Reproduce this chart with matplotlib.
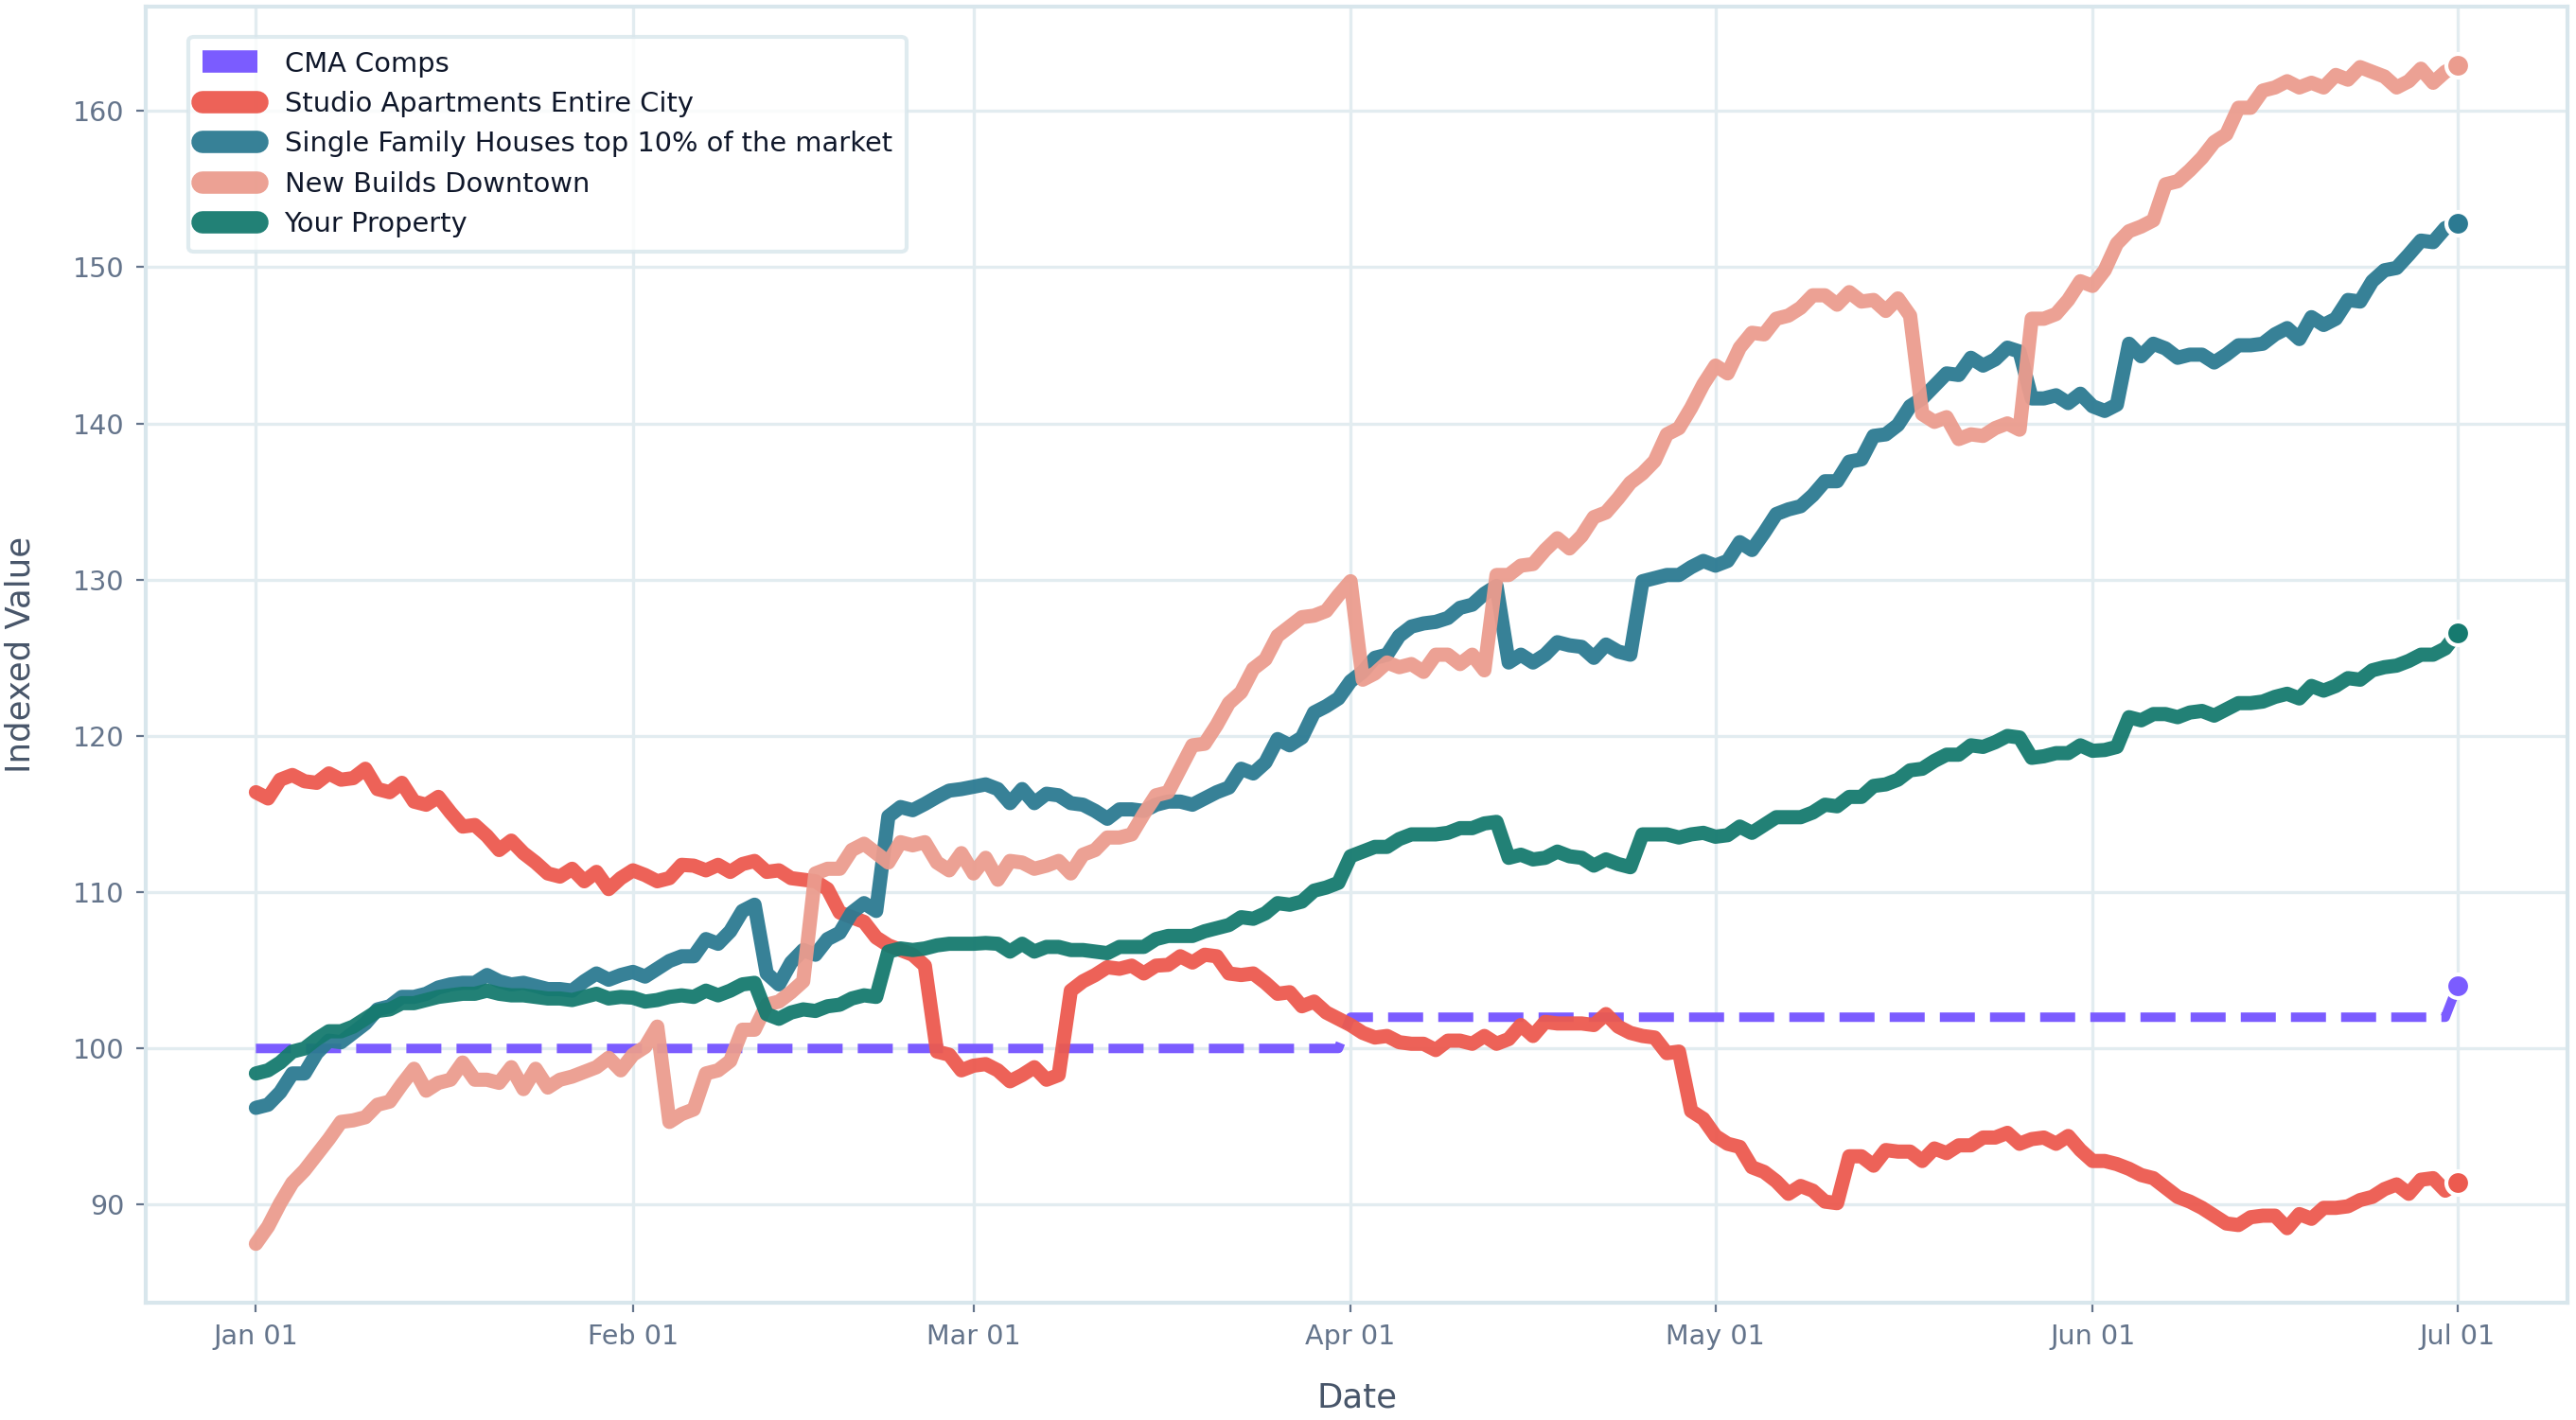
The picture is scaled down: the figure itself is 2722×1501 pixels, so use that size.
import matplotlib
matplotlib.use("Agg")
import matplotlib.pyplot as plt
import matplotlib.dates as mdates
import pandas as pd

# daily index values, 2023-01-01 .. 2023-07-01
dates = pd.date_range("2023-01-01", "2023-07-01", freq="D")

cma_comps = [100.0] * 90 + [102.0] * 91 + [104.0]

studio_city = [
    116.4, 116.0, 117.2, 117.5, 117.1, 117.0, 117.6, 117.2, 117.3, 117.9,
    116.6, 116.4, 117.0, 115.8, 115.6, 116.1, 115.1, 114.2, 114.3, 113.6,
    112.7, 113.3, 112.5, 111.9, 111.2, 111.0, 111.5, 110.7, 111.3, 110.2,
    110.9, 111.4, 111.1, 110.7, 110.9, 111.75, 111.7, 111.4, 111.75, 111.3,
    111.8, 112.0, 111.3, 111.4, 110.9, 110.8, 110.7, 110.2, 108.7, 108.4,
    108.1, 107.1, 106.6, 106.3, 106.0, 105.3, 99.8, 99.6, 98.6, 98.9,
    99.0, 98.6, 97.9, 98.3, 98.8, 98.0, 98.3, 103.7, 104.3, 104.7,
    105.2, 105.1, 105.3, 104.8, 105.3, 105.35, 105.9, 105.5, 106.0, 105.9,
    104.8, 104.7, 104.8, 104.2, 103.5, 103.6, 102.7, 103.0, 102.3, 101.9,
    101.5, 101.0, 100.7, 100.8, 100.4, 100.3, 100.3, 99.9, 100.5, 100.5,
    100.3, 100.8, 100.3, 100.6, 101.5, 100.8, 101.7, 101.6, 101.6, 101.6,
    101.5, 102.2, 101.4, 101.0, 100.8, 100.7, 99.7, 99.8, 96.0, 95.5,
    94.4, 93.9, 93.7, 92.4, 92.1, 91.5, 90.7, 91.2, 90.9, 90.2,
    90.1, 93.1, 93.1, 92.5, 93.5, 93.4, 93.4, 92.8, 93.6, 93.3,
    93.8, 93.8, 94.3, 94.3, 94.6, 93.9, 94.2, 94.3, 93.9, 94.4,
    93.5, 92.8, 92.8, 92.6, 92.3, 91.9, 91.7, 91.1, 90.5, 90.2,
    89.8, 89.3, 88.8, 88.7, 89.2, 89.3, 89.3, 88.5, 89.4, 89.1,
    89.8, 89.8, 89.9, 90.3, 90.5, 91.0, 91.3, 90.7, 91.6, 91.7,
    90.9, 91.4,
]

single_family_top10 = [
    96.2, 96.4, 97.2, 98.4, 98.4, 99.7, 100.5, 100.4, 101.0, 101.6,
    102.5, 102.7, 103.3, 103.3, 103.5, 103.9, 104.1, 104.2, 104.2, 104.7,
    104.3, 104.1, 104.2, 104.0, 103.8, 103.8, 103.7, 104.3, 104.8, 104.4,
    104.7, 104.9, 104.6, 105.1, 105.6, 105.9, 105.9, 107.0, 106.7, 107.5,
    108.8, 109.2, 104.8, 104.1, 105.5, 106.3, 106.0, 107.0, 107.4, 108.7,
    109.3, 108.8, 114.85, 115.45, 115.25, 115.65, 116.1, 116.5, 116.6, 116.75,
    116.9, 116.6, 115.7, 116.6, 115.7, 116.3, 116.2, 115.7, 115.6, 115.2,
    114.7, 115.3, 115.3, 115.2, 115.6, 115.8, 115.8, 115.6, 116.0, 116.4,
    116.7, 117.9, 117.6, 118.3, 119.8, 119.4, 119.9, 121.5, 121.9, 122.4,
    123.5, 124.1, 125.0, 125.2, 126.4, 127.0, 127.2, 127.3, 127.55, 128.2,
    128.4, 129.1, 129.6, 124.7, 125.2, 124.7, 125.2, 126.0, 125.8, 125.7,
    125.0, 125.85, 125.4, 125.2, 129.9, 130.1, 130.3, 130.3, 130.8, 131.2,
    130.9, 131.2, 132.4, 131.9, 133.0, 134.2, 134.5, 134.7, 135.4, 136.3,
    136.3, 137.55, 137.7, 139.2, 139.3, 139.9, 141.1, 141.6, 142.4, 143.2,
    143.1, 144.2, 143.7, 144.1, 144.85, 144.6, 141.6, 141.6, 141.8, 141.3,
    141.9, 141.1, 140.8, 141.2, 145.1, 144.3, 145.1, 144.8, 144.2, 144.4,
    144.4, 143.9, 144.4, 145.0, 145.0, 145.1, 145.7, 146.1, 145.4, 146.8,
    146.3, 146.7, 147.9, 147.8, 149.1, 149.8, 149.95, 150.8, 151.7, 151.6,
    152.5, 152.8,
]

new_builds_downtown = [
    87.5, 88.6, 90.1, 91.4, 92.2, 93.2, 94.2, 95.3, 95.4, 95.6,
    96.4, 96.6, 97.7, 98.7, 97.3, 97.8, 98.0, 99.1, 98.0, 98.0,
    97.8, 98.8, 97.4, 98.7, 97.5, 98.0, 98.2, 98.5, 98.8, 99.4,
    98.6, 99.6, 100.1, 101.4, 95.3, 95.8, 96.1, 98.4, 98.6, 99.2,
    101.2, 101.2, 102.8, 103.0, 103.6, 104.3, 111.2, 111.5, 111.5, 112.7,
    113.1, 112.5, 111.9, 113.2, 113.0, 113.2, 111.9, 111.4, 112.5, 111.2,
    112.2, 110.8, 112.0, 111.9, 111.5, 111.7, 112.0, 111.2, 112.4, 112.7,
    113.5, 113.5, 113.7, 115.0, 116.2, 116.4, 117.9, 119.4, 119.5, 120.7,
    122.1, 122.8, 124.3, 124.9, 126.4, 127.0, 127.6, 127.7, 128.0, 129.0,
    129.9, 123.6, 124.0, 124.7, 124.4, 124.6, 124.1, 125.2, 125.2, 124.6,
    125.2, 124.2, 130.3, 130.3, 130.9, 131.0, 131.9, 132.65, 132.0, 132.8,
    134.0, 134.3, 135.2, 136.2, 136.8, 137.6, 139.3, 139.7, 141.0, 142.5,
    143.7, 143.2, 144.85, 145.8, 145.7, 146.7, 146.9, 147.4, 148.2, 148.2,
    147.6, 148.4, 147.8, 147.9, 147.2, 148.0, 146.9, 140.6, 140.1, 140.4,
    139.0, 139.3, 139.2, 139.7, 140.0, 139.6, 146.7, 146.7, 147.0, 147.9,
    149.1, 148.8, 149.8, 151.5, 152.3, 152.6, 153.0, 155.3, 155.5, 156.2,
    157.0, 158.0, 158.5, 160.2, 160.2, 161.3, 161.5, 161.9, 161.5, 161.8,
    161.5, 162.3, 162.0, 162.8, 162.5, 162.2, 161.5, 161.9, 162.7, 161.8,
    162.5, 162.9,
]

your_property = [
    98.4, 98.6, 99.1, 99.8, 100.0, 100.6, 101.1, 101.1, 101.4, 101.9,
    102.4, 102.5, 102.9, 102.9, 103.1, 103.3, 103.4, 103.5, 103.5, 103.7,
    103.5, 103.4, 103.4, 103.3, 103.2, 103.2, 103.1, 103.3, 103.5, 103.2,
    103.3, 103.25, 103.0, 103.1, 103.3, 103.4, 103.3, 103.7, 103.4, 103.7,
    104.1, 104.2, 102.2, 101.9, 102.3, 102.5, 102.4, 102.7, 102.8, 103.2,
    103.4, 103.3, 106.2, 106.4, 106.3, 106.4, 106.6, 106.7, 106.7, 106.7,
    106.75, 106.7, 106.2, 106.7, 106.2, 106.5, 106.5, 106.3, 106.3, 106.2,
    106.1, 106.5, 106.5, 106.5, 107.0, 107.2, 107.2, 107.2, 107.5, 107.7,
    107.9, 108.4, 108.3, 108.65, 109.3, 109.2, 109.4, 110.1, 110.3, 110.6,
    112.3, 112.6, 112.9, 112.9, 113.4, 113.7, 113.7, 113.7, 113.8, 114.1,
    114.1, 114.4, 114.5, 112.2, 112.4, 112.1, 112.2, 112.6, 112.3, 112.2,
    111.7, 112.1, 111.8, 111.6, 113.7, 113.7, 113.7, 113.5, 113.7, 113.8,
    113.55, 113.65, 114.2, 113.8, 114.3, 114.8, 114.8, 114.8, 115.1, 115.6,
    115.5, 116.1, 116.1, 116.8, 116.9, 117.2, 117.8, 117.9, 118.4, 118.8,
    118.8, 119.4, 119.3, 119.6, 120.0, 119.9, 118.6, 118.7, 118.9, 118.9,
    119.4, 119.05, 119.1, 119.3, 121.2, 121.0, 121.4, 121.4, 121.2, 121.5,
    121.6, 121.3, 121.7, 122.1, 122.1, 122.2, 122.5, 122.7, 122.4, 123.2,
    122.9, 123.2, 123.7, 123.6, 124.2, 124.4, 124.5, 124.8, 125.2, 125.2,
    125.6, 126.6,
]

series = [
    ("CMA Comps", cma_comps, "#7b5cff"),
    ("Studio Apartments Entire City", studio_city, "#ec5a4f"),
    ("Single Family Houses top 10% of the market", single_family_top10, "#2c7a92"),
    ("New Builds Downtown", new_builds_downtown, "#eb9c8e"),
    ("Your Property", your_property, "#167a6f"),
]

fig = plt.figure(figsize=(13.61, 7.505), dpi=200)
ax = fig.add_axes([0.0566, 0.0826, 0.9401, 0.9127])

for name, values, color in series:
    if name == "CMA Comps":
        ax.plot(dates, values, color=color, lw=3.6, ls="--", label=name, zorder=2)
    else:
        ax.plot(dates, values, color=color, lw=5.4, alpha=0.95, label=name,
                solid_capstyle="round", solid_joinstyle="round", zorder=2)
    # dot at the latest value
    ax.plot(dates[-1:], values[-1:], "o", color=color, ms=9,
            mec="white", mew=1.5, zorder=3)

ax.xaxis.set_major_locator(mdates.MonthLocator())
ax.xaxis.set_major_formatter(mdates.DateFormatter("%b %d"))

ax.grid(True, color="#e2ecf0", lw=1.2)
ax.set_axisbelow(True)
for sp in ax.spines.values():
    sp.set_color("#d8e6ec")
    sp.set_linewidth(1.5)

ax.tick_params(colors="#64748b", labelsize=10.3, length=3.5, width=0.8, pad=4.5)
ax.set_xlabel("Date", fontsize=12.8, color="#475569")
ax.set_ylabel("Indexed Value", fontsize=12.8, color="#475569")
ax.xaxis.set_label_coords(0.5, -0.061)
ax.yaxis.set_label_coords(-0.045, 0.5)

leg = ax.legend(loc="upper left", bbox_to_anchor=(0.0175, 0.977),
                borderaxespad=0, fontsize=10.4, labelcolor="#0f172a",
                edgecolor="#d8e6ec", handletextpad=1.0, borderpad=0.52)
leg.get_frame().set_linewidth(1.5)
for line in leg.get_lines():
    line.set_linewidth(8.5)

fig.savefig("out.png", dpi=200)
